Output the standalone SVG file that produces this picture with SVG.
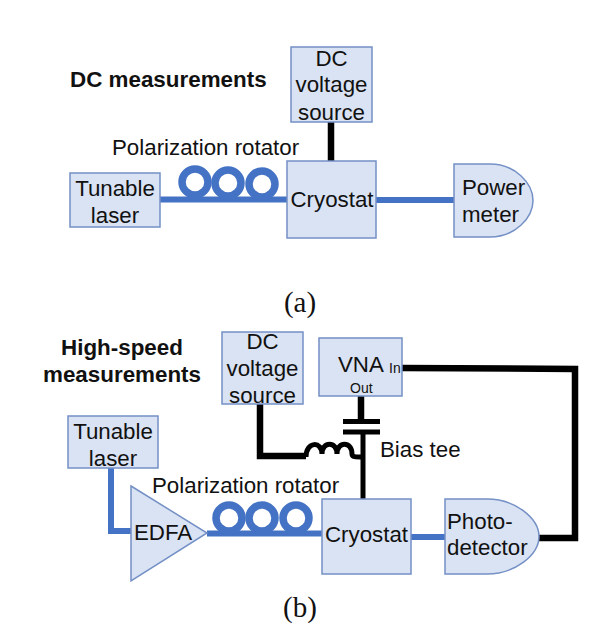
<svg xmlns="http://www.w3.org/2000/svg" width="598" height="643" viewBox="0 0 598 643">
<style>
.box{fill:#dae3f3;stroke:#7490c6;stroke-width:1.5}
.t{font-family:"Liberation Sans",Arial,sans-serif;font-size:22.300px;fill:#111}
.m{text-anchor:middle}
.h{font-family:"Liberation Sans",Arial,sans-serif;font-size:22.400px;font-weight:bold;fill:#111}
.s{font-family:"Liberation Sans",Arial,sans-serif;fill:#111;font-size:14px}
.cap{font-family:"Liberation Serif","Times New Roman",serif;font-size:29px;fill:#111;text-anchor:middle}
.blue{fill:none;stroke:#4472c4;stroke-width:6}
.coil{fill:none;stroke:#4472c4;stroke-width:7.500}
.black{fill:none;stroke:#000;stroke-width:6.500}
.thin{fill:none;stroke:#000;stroke-width:5}
</style>
<rect width="598" height="643" fill="#fff"/>
<g id="connectors">
<path class="blue" d="M160 199.500H287"/>
<circle class="coil" cx="195" cy="182" r="13"/>
<circle class="coil" cx="228" cy="183" r="13"/>
<circle class="coil" cx="262" cy="184" r="13"/>
<path class="black" d="M331 122V161"/>
<path class="blue" d="M376 200H454"/>
<path class="blue" d="M111 468V531H131"/>
<path class="blue" d="M207 533.500H322"/>
<circle class="coil" cx="229" cy="518" r="13"/>
<circle class="coil" cx="262" cy="518" r="13"/>
<circle class="coil" cx="296" cy="518" r="13"/>
<path class="blue" d="M411 537H445"/>
<path class="black" d="M402 368L575 369V538H539"/>
<path class="black" d="M361 396V422"/>
<path class="thin" d="M343 421.500H380M343 432H380"/>
<path class="thin" d="M363 432V499"/>
<path class="black" d="M260 404V456H306"/>
<path class="thin" d="M306 457C306 441 322 441 322 454C322 441 337 441 337 454C337 441 352 441 352 454C352 457 355 457 363 457"/>
</g>
<g id="label-dc"><text class="h" x="70" y="87">DC measurements</text></g>
<g id="label-pol-a"><text class="t" x="112" y="155">Polarization rotator</text></g>
<g id="laser-a"><rect class="box" x="70" y="173" width="90" height="54"/><text class="t m" x="115" y="196">Tunable</text><text class="t m" x="115" y="223">laser</text></g>
<g id="dc-a"><rect class="box" x="291" y="47" width="81" height="75"/><text class="t m" x="331.500" y="66">DC</text><text class="t m" x="331.500" y="92">voltage</text><text class="t m" x="331.500" y="120">source</text></g>
<g id="cryostat-a"><rect class="box" x="287" y="161" width="89" height="77"/><text class="t m" x="332" y="207">Cryostat</text></g>
<g id="power-meter"><path class="box" d="M454 164H490C515 164 533 183 533 200.500C533 218 515 237 490 237H454Z"/><text class="t" x="462" y="195">Power</text><text class="t" x="462" y="222">meter</text></g>
<g id="caption-a"><text class="cap" x="300" y="312">(a)</text></g>
<g id="label-hs"><text class="h m" x="122" y="355">High-speed</text><text class="h m" x="122" y="382">measurements</text></g>
<g id="dc-b"><rect class="box" x="222" y="332" width="81" height="72"/><text class="t m" x="262.500" y="349">DC</text><text class="t m" x="262.500" y="376">voltage</text><text class="t m" x="262.500" y="403">source</text></g>
<g id="vna"><rect class="box" x="319" y="338" width="83" height="58"/><text class="t" x="338" y="372">VNA</text><text class="s" x="389" y="373">In</text><text class="s" x="350" y="393">Out</text></g>
<g id="label-bias"><text class="t" x="380" y="457">Bias tee</text></g>
<g id="laser-b"><rect class="box" x="68" y="416" width="90" height="52"/><text class="t m" x="113" y="439">Tunable</text><text class="t m" x="113" y="466">laser</text></g>
<g id="label-pol-b"><text class="t" x="152" y="493">Polarization rotator</text></g>
<g id="edfa"><path class="box" d="M131 486L207 533L131 581Z"/><text class="t" x="134" y="540">EDFA</text></g>
<g id="cryostat-b"><rect class="box" x="322" y="499" width="89" height="75"/><text class="t m" x="366.500" y="542">Cryostat</text></g>
<g id="photodetector"><path class="box" d="M445 499H487C515 499 539 518 539 536.500C539 555 515 574 487 574H445Z"/><text class="t" x="447" y="529">Photo-</text><text class="t" x="447" y="555">detector</text></g>
<g id="caption-b"><text class="cap" x="300" y="617">(b)</text></g>
</svg>
